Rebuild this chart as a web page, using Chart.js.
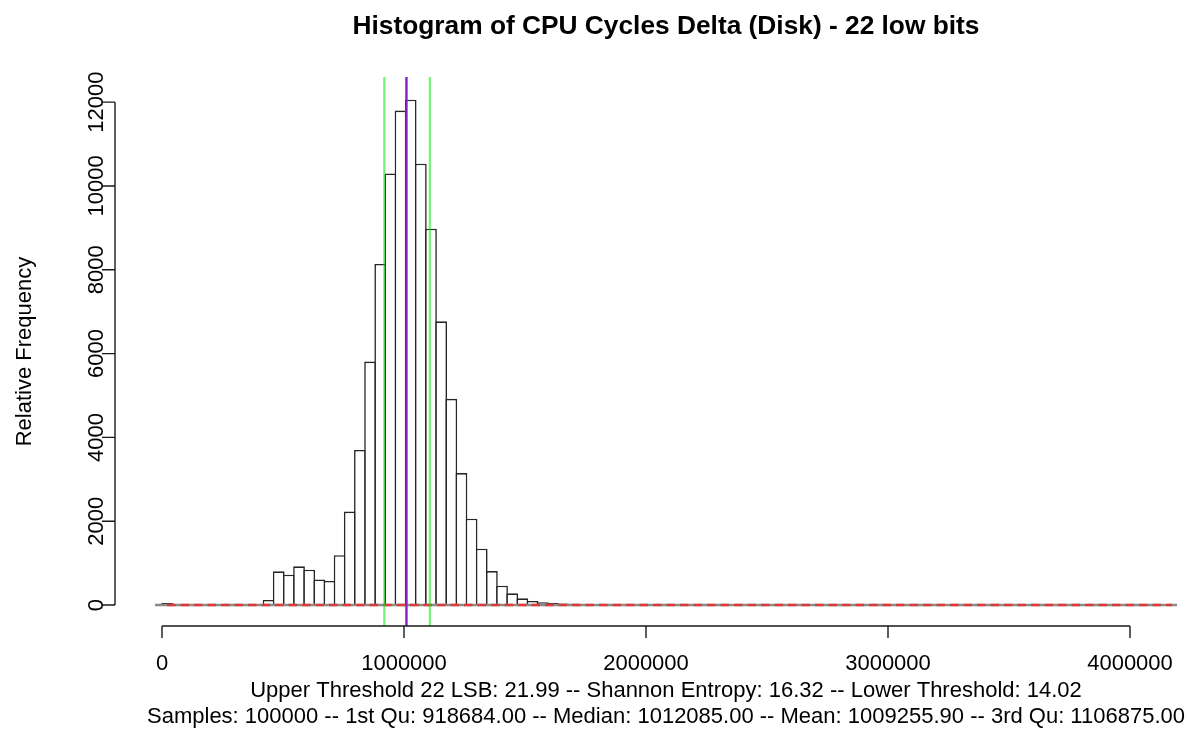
<!DOCTYPE html>
<html>
<head>
<meta charset="utf-8">
<script src="https://cdn.jsdelivr.net/npm/chart.js@4/dist/chart.umd.min.js"></script>
<style>
  html, body { margin: 0; padding: 0; background: #ffffff; }
  canvas { display: block; }
</style>
</head>
<body>
<canvas id="c" width="1189" height="729"></canvas>
<script>
// ---------- data ----------
const titleText = 'Histogram of CPU Cycles Delta (Disk) - 22 low bits';
const yAxisTitle = 'Relative Frequency';
const subLines = [
  'Upper Threshold 22 LSB: 21.99 -- Shannon Entropy: 16.32 -- Lower Threshold: 14.02',
  'Samples: 100000 -- 1st Qu: 918684.00 -- Median: 1012085.00 -- Mean: 1009255.90 -- 3rd Qu: 1106875.00'
];
const rangeMax = 4194304;      // 2^22
const binCount = 100;
const binCounts = [
  50, 0, 0, 0, 0, 0, 0, 0, 0, 25,
  120, 804, 724, 924, 844, 610, 575, 1190, 2230, 3700,
  5810, 8140, 10300, 11800, 12060, 10530, 8980, 6770, 4920, 3150,
  2060, 1345, 810, 460, 280, 160, 96, 64, 50, 38,
  28, 20, 15, 10, 8, 6, 8, 4, 3, 3,
  2, 2, 2, 1, 1, 1, 1, 1, 1, 4,
  1, 1, 0, 0, 0, 0, 0, 0, 0, 0,
  0, 0, 0, 0, 0, 0, 0, 0, 0, 0,
  0, 0, 0, 0, 0, 0, 0, 0, 0, 0,
  0, 0, 0, 0, 0, 0, 0, 0, 0, 0
];
const xTicks = [0, 1000000, 2000000, 3000000, 4000000];
const yTicks = [0, 2000, 4000, 6000, 8000, 10000, 12000];
const q1 = 918684, median = 1012085, mean = 1009255.9, q3 = 1106875;
const baselineStart = -29000;
const xRange = [-194200, 4243800];
const yRange = [-500, 12600];

// ---------- build datasets ----------
const binWidth = rangeMax / binCount;
const binCenters = binCounts.map((_, i) => (i + 0.5) * binWidth);
const barData = binCounts.map((c, i) => ({ x: binCenters[i], y: c }));
const vline = (v) => [{ x: v, y: yRange[0] }, { x: v, y: yRange[1] }];

const FONT = '"Liberation Sans", Arial, Helvetica, sans-serif';
const BAR_BW = 1.6;

const rAxes = {
  id: 'rAxes',
  afterDraw(chart) {
    const { ctx, chartArea } = chart;
    const x = chart.scales.x, y = chart.scales.y;
    ctx.save();
    ctx.strokeStyle = '#1a1a1a';
    ctx.lineWidth = 1.4;
    // x axis
    const ax = chartArea.bottom;
    ctx.beginPath();
    ctx.moveTo(x.getPixelForValue(xTicks[0]), ax);
    ctx.lineTo(x.getPixelForValue(xTicks[xTicks.length - 1]), ax);
    xTicks.forEach(v => {
      const px = x.getPixelForValue(v);
      ctx.moveTo(px, ax); ctx.lineTo(px, ax + 12);
    });
    // y axis
    const ay = chartArea.left;
    ctx.moveTo(ay, y.getPixelForValue(yTicks[0]));
    ctx.lineTo(ay, y.getPixelForValue(yTicks[yTicks.length - 1]));
    yTicks.forEach(v => {
      const py = y.getPixelForValue(v);
      ctx.moveTo(ay, py); ctx.lineTo(ay - 13, py);
    });
    ctx.stroke();

    ctx.fillStyle = '#000';
    ctx.font = '22px ' + FONT;
    ctx.textAlign = 'center';
    ctx.textBaseline = 'middle';
    xTicks.forEach(v => ctx.fillText(String(v), x.getPixelForValue(v), 664));
    yTicks.forEach(v => {
      ctx.save();
      ctx.translate(97, y.getPixelForValue(v));
      ctx.rotate(-Math.PI / 2);
      ctx.fillText(String(v), 0, 0);
      ctx.restore();
    });
    // y title
    ctx.save();
    ctx.translate(25, (chartArea.top + chartArea.bottom) / 2);
    ctx.rotate(-Math.PI / 2);
    ctx.fillText(yAxisTitle, 0, 0);
    ctx.restore();
    // sub lines
    ctx.fillText(subLines[0], 666, 691);
    ctx.fillText(subLines[1], 666, 717);
    // main title
    ctx.font = 'bold 26.3px ' + FONT;
    ctx.fillText(titleText, 666, 27);
    ctx.restore();
  }
};

new Chart(document.getElementById('c'), {
  data: {
    datasets: [
      {
        type: 'bar', label: 'hist', data: barData, order: 5,
        backgroundColor: '#ffffff', borderColor: '#262626', borderWidth: BAR_BW,
        barThickness: 10.15 + BAR_BW, inflateAmount: 0, grouped: false, borderSkipped: 'start'
      },
      {
        type: 'line', label: 'base', order: 4,
        data: [{ x: baselineStart, y: 0 }, { x: rangeMax, y: 0 }],
        borderColor: '#8a8a8a', borderWidth: 2.4, pointRadius: 0
      },
      {
        type: 'line', label: 'ref', order: 3,
        data: [{ x: binCenters[0], y: 0 }, { x: binCenters[binCount - 1], y: 0 }],
        borderColor: 'rgba(226,52,52,0.92)', borderWidth: 2.4, borderDash: [8.5, 5], pointRadius: 0
      },
      {
        type: 'line', label: 'q1', order: 2, data: vline(q1),
        borderColor: 'rgba(0,235,0,0.55)', borderWidth: 2.2, pointRadius: 0
      },
      {
        type: 'line', label: 'q3', order: 2, data: vline(q3),
        borderColor: 'rgba(0,235,0,0.55)', borderWidth: 2.2, pointRadius: 0
      },
      {
        type: 'line', label: 'median', order: 1, data: vline(median),
        borderColor: 'rgba(70,70,255,0.8)', borderWidth: 1.6, pointRadius: 0
      },
      {
        type: 'line', label: 'mean', order: 0, data: vline(mean),
        borderColor: '#8420c8', borderWidth: 2, pointRadius: 0
      }
    ]
  },
  options: {
    responsive: false,
    devicePixelRatio: 1,
    animation: false,
    layout: { padding: { left: 115, top: 77, right: 0, bottom: 103 } },
    plugins: { legend: { display: false }, tooltip: { enabled: false }, title: { display: false } },
    scales: {
      x: { type: 'linear', offset: false, min: xRange[0], max: xRange[1], display: false },
      y: { type: 'linear', min: yRange[0], max: yRange[1], display: false }
    }
  },
  plugins: [rAxes]
});
</script>
</body>
</html>
